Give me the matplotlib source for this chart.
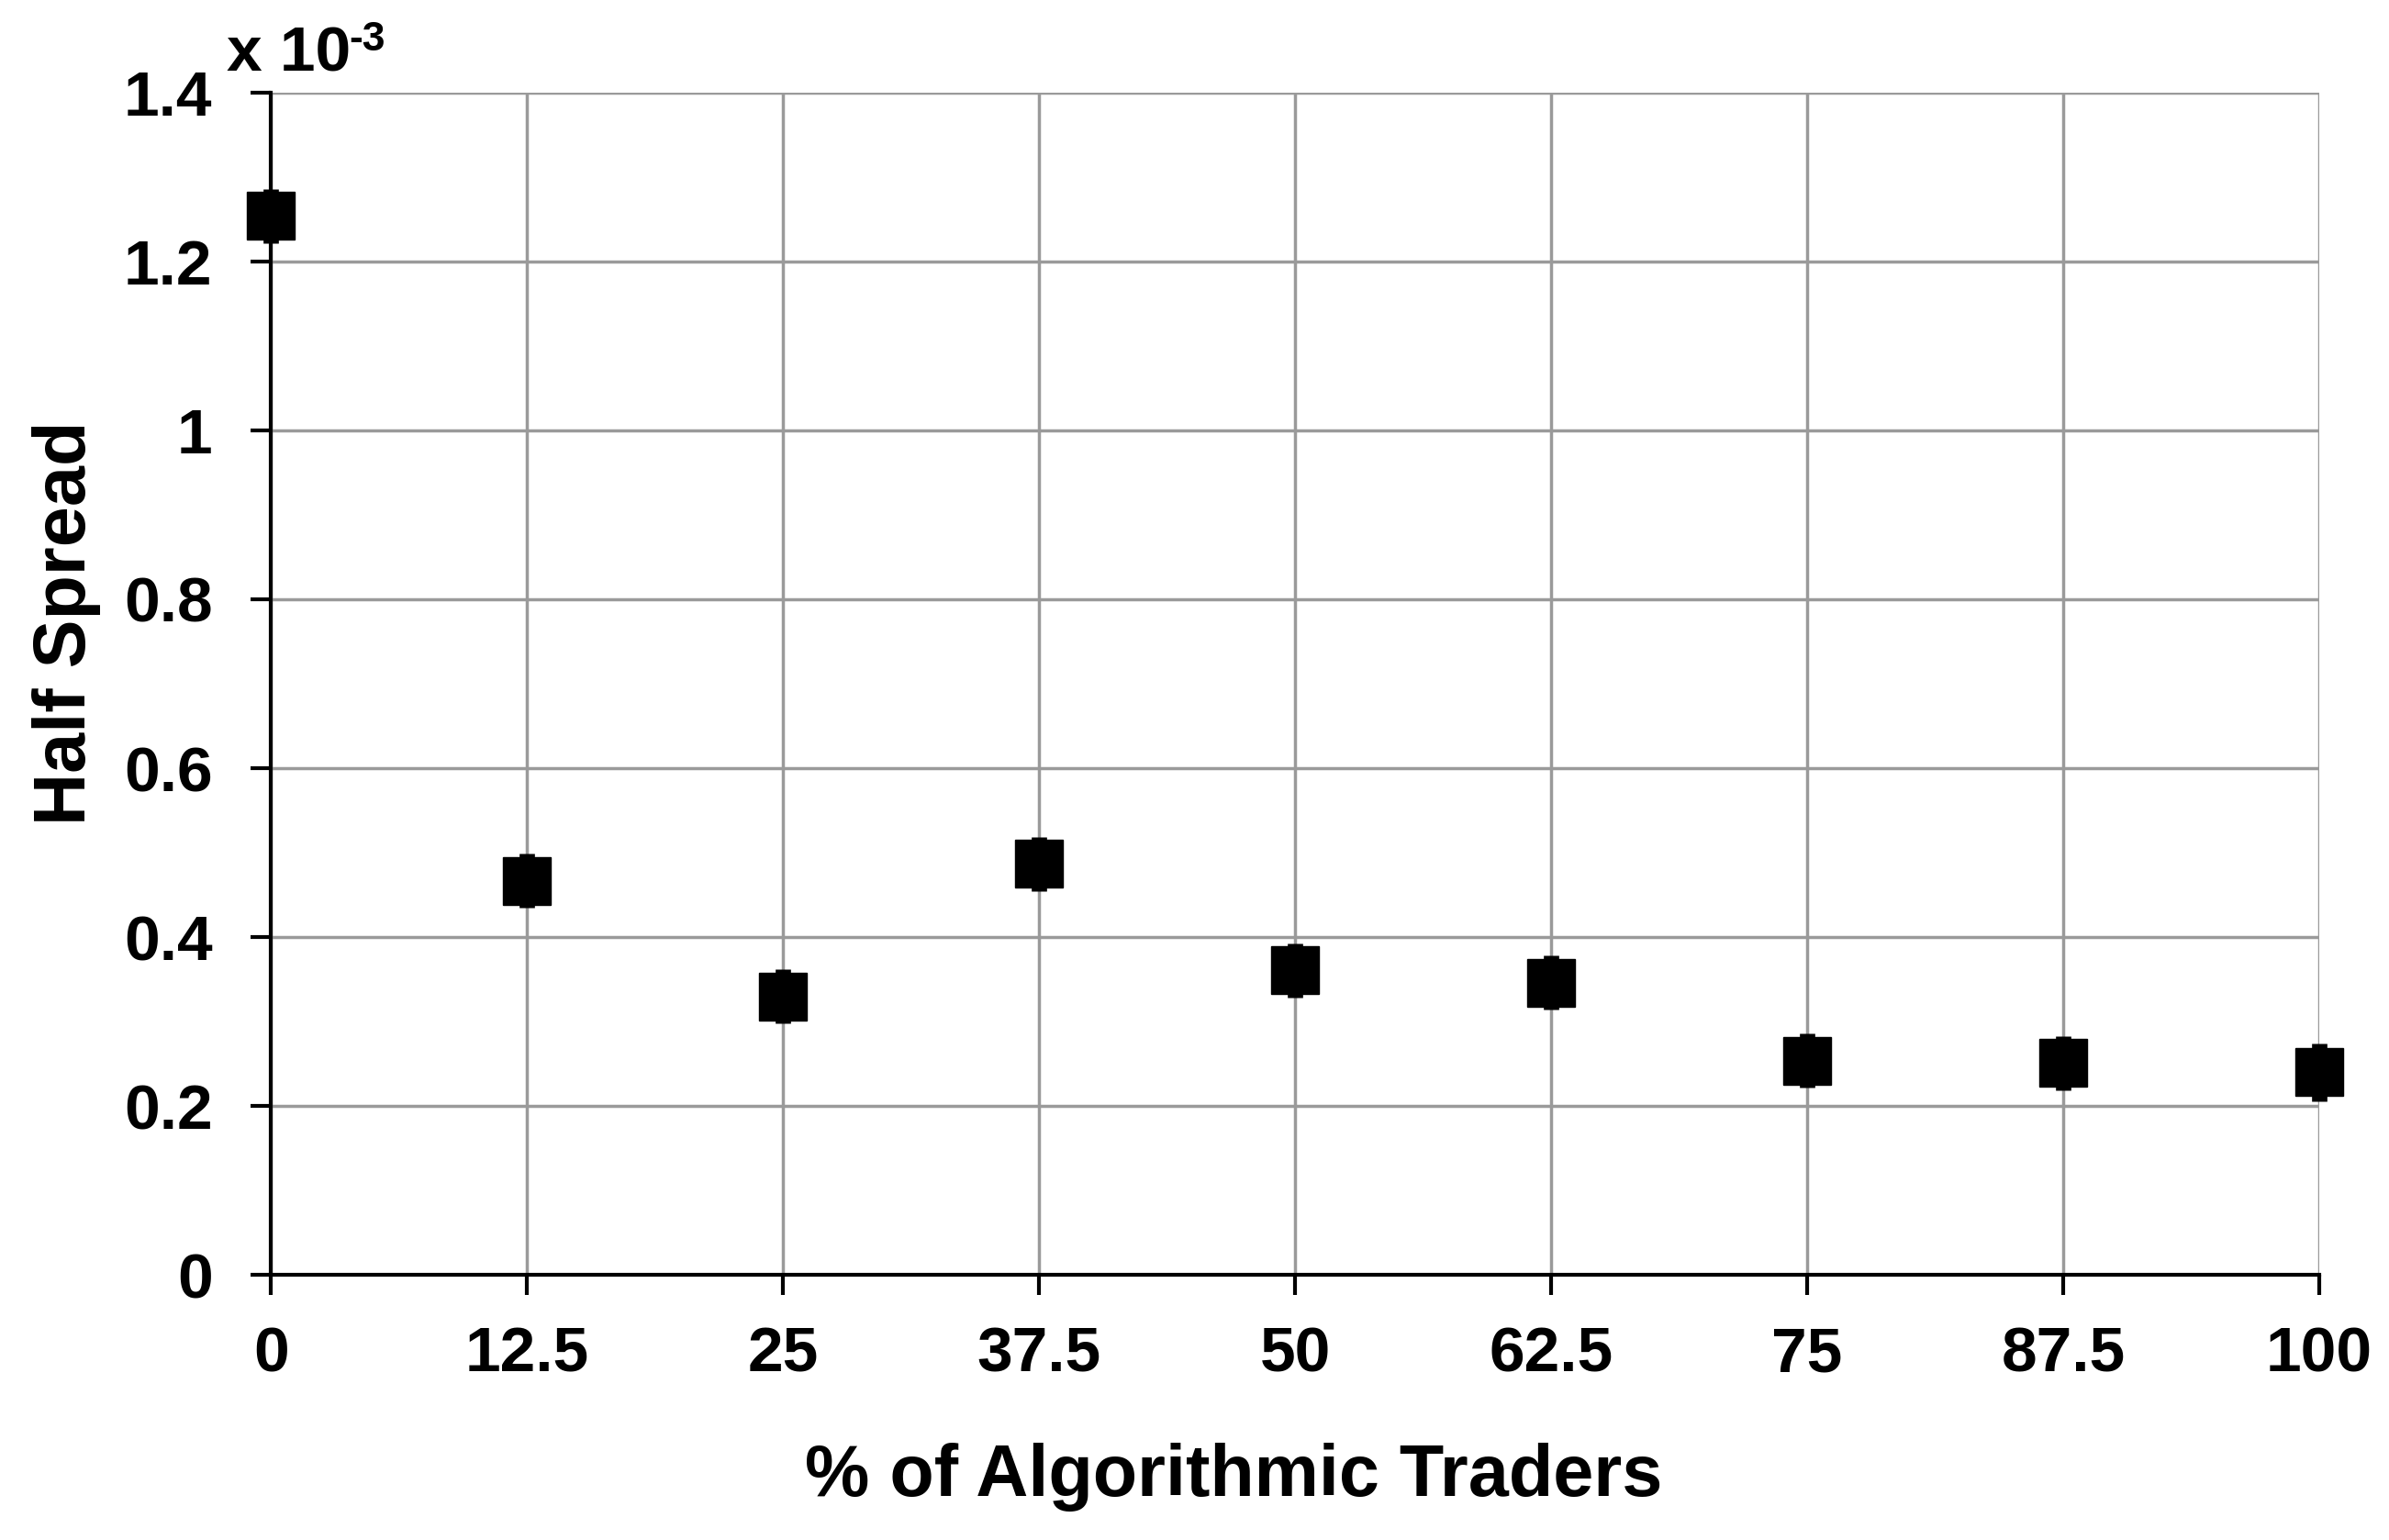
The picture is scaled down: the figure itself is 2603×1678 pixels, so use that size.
import numpy as np
import matplotlib.pyplot as plt

plt.rcParams['font.family'] = ['Liberation Sans', 'DejaVu Sans']
plt.rcParams['font.weight'] = 'bold'

# % of algorithmic traders and the half spread (x 1e-3)
pct = [0, 12.5, 25, 37.5, 50, 62.5, 75, 87.5, 100]
half_spread = [1.254, 0.467, 0.330, 0.487, 0.361, 0.346, 0.254, 0.251, 0.240]
err = [0.032, 0.032, 0.032, 0.032, 0.032, 0.032, 0.032, 0.032, 0.034]

xlabels = ['0', '12.5', '25', '37.5', '50', '62.5', '75', '87.5', '100']
yticks = [0, 0.2, 0.4, 0.6, 0.8, 1.0, 1.2, 1.4]
ylabels = ['0', '0.2', '0.4', '0.6', '0.8', '1', '1.2', '1.4']

fig = plt.figure(figsize=(26.03, 16.78), dpi=100)
ax = fig.add_axes([0.1135, 0.172, 0.8573, 0.768])

ax.errorbar(pct, half_spread, yerr=err, fmt='s', color='black', ms=38,
            elinewidth=12, capsize=0, zorder=3, clip_on=False)

ax.set_xlim(0, 100)
ax.set_ylim(0, 1.4)
ax.set_xticks(pct)
ax.set_xticklabels(xlabels)
ax.set_yticks(yticks)
ax.set_yticklabels(ylabels)

ax.grid(True, color='#9a9a9a', linewidth=2.5)
ax.set_axisbelow(True)
for s in ['top', 'right']:
    ax.spines[s].set_visible(False)
for s in ['left', 'bottom']:
    ax.spines[s].set_linewidth(3)

ax.tick_params(axis='both', labelsize=50, width=3, length=16)
ax.tick_params(axis='y', pad=30)
ax.tick_params(axis='x', pad=24)

ax.set_xlabel('% of Algorithmic Traders', fontsize=57, fontweight='bold')
ax.xaxis.set_label_coords(0.470, -0.142)
ax.set_ylabel('Half Spread', fontsize=57, fontweight='bold')
ax.yaxis.set_label_coords(-0.083, 0.551)

# scale factor label at the top of the y axis
fig.text(247 / 2603, 1 - 78 / 1678, 'x 10', fontsize=50, fontweight='bold',
         ha='left', va='baseline')
fig.text(380 / 2603, 1 - 55 / 1678, '-3', fontsize=32, fontweight='bold',
         ha='left', va='baseline')

fig.savefig('out.png', dpi=100)
